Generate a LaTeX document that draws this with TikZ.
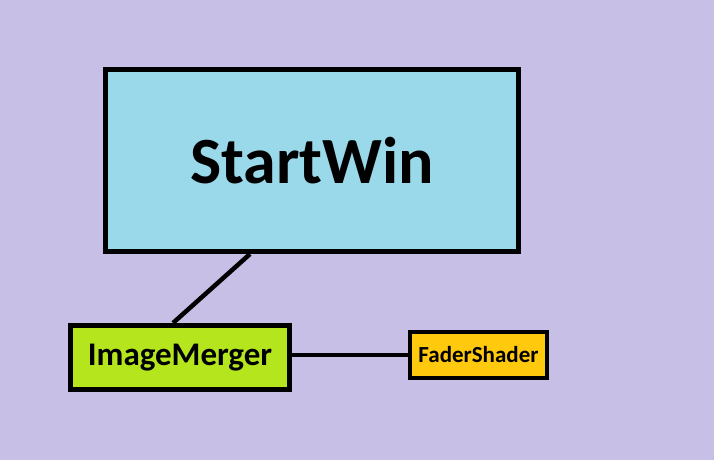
\documentclass[tikz,border=0pt]{standalone}
\usepackage{fontspec}
\setmainfont{Carlito}
\usepackage{tikz}
\usetikzlibrary{positioning}
\usepackage{xcolor}
\definecolor{lavender}{HTML}{C8BFE7}
\definecolor{skyblue}{HTML}{99D9EA}
\definecolor{limegreen}{HTML}{B5E61D}
\definecolor{ambergold}{HTML}{FFC90E}

\begin{document}
\begin{tikzpicture}[
    x=1pt, y=-1pt,
    block/.style={rectangle, draw=black, line width=5pt, inner sep=0pt, font=\bfseries},
    link/.style={line width=4.5pt, color=black}
]

\fill[lavender] (0,0) rectangle (714,460);
\useasboundingbox (0,0) rectangle (714,460);

\node[block, fill=skyblue, minimum width=413pt, minimum height=182pt, font=\bfseries\fontsize{66}{66}\selectfont] (startwin) at (312,160.5) {StartWin};
\node[block, fill=limegreen, minimum width=219pt, minimum height=64pt, font=\bfseries\fontsize{33}{33}\selectfont] (merger) at (180,357.5) {ImageMerger};
\node[block, fill=ambergold, line width=4pt, minimum width=137pt, minimum height=46pt, font=\bfseries\fontsize{23}{23}\selectfont] (fader) at (478.5,355) {FaderShader};

\draw[link] ([xshift=-62pt]startwin.south) -- ([xshift=-7pt]merger.north);
\draw[link] (merger.east |- fader.west) -- (fader.west);

\end{tikzpicture}
\end{document}
